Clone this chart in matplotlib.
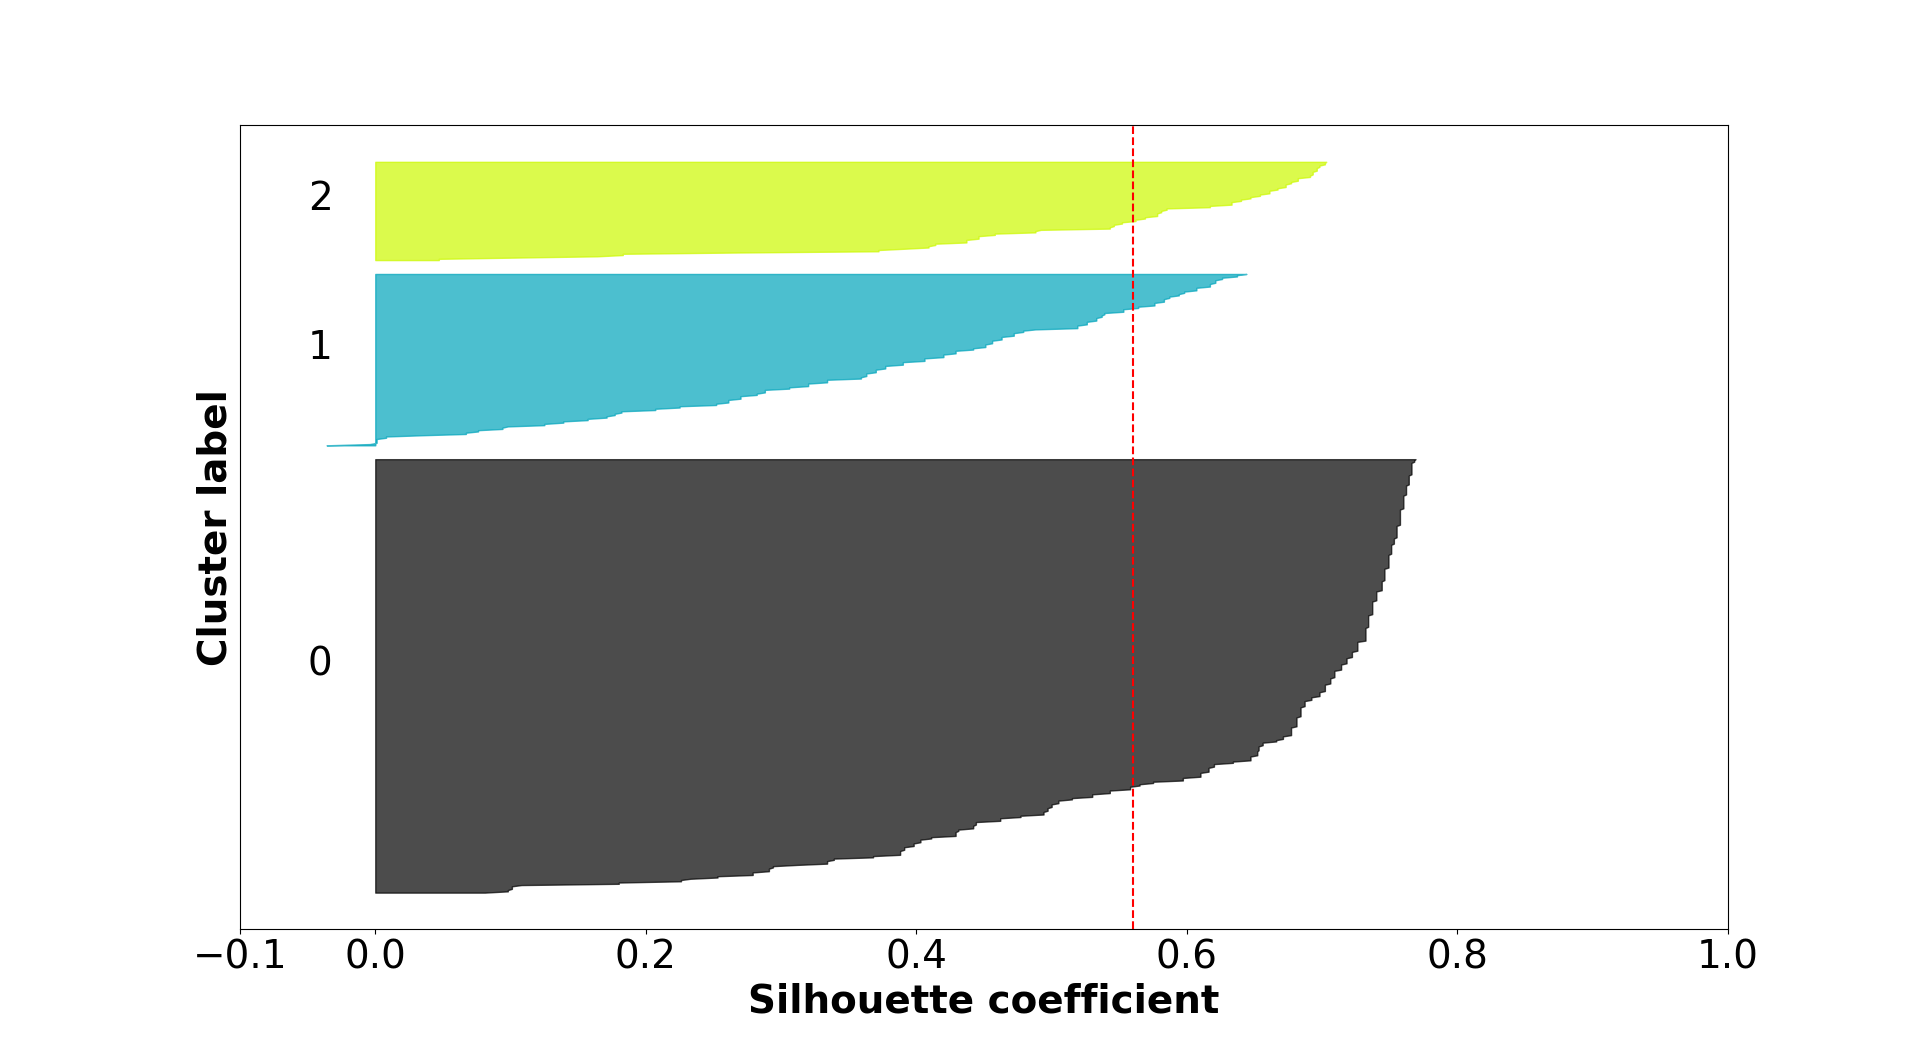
import numpy as np
import matplotlib
matplotlib.use("Agg")
import matplotlib.pyplot as plt
from matplotlib import cm

# sorted silhouette values per cluster, as (value, number of samples) runs
sil0_vals = [0.081, 0.098, 0.101, 0.108, 0.180, 0.226, 0.233, 0.253, 0.279, 0.291,
             0.294, 0.312, 0.334, 0.339, 0.368, 0.388, 0.391, 0.398, 0.403, 0.411,
             0.429, 0.431, 0.442, 0.444, 0.462, 0.477, 0.494, 0.497, 0.500, 0.505,
             0.515, 0.530, 0.543, 0.558, 0.565, 0.575, 0.597, 0.610, 0.616, 0.620,
             0.634, 0.647, 0.652, 0.653, 0.656, 0.666, 0.671, 0.677, 0.681, 0.684,
             0.687, 0.692, 0.698, 0.702, 0.706, 0.709, 0.714, 0.718, 0.722, 0.726,
             0.732, 0.734, 0.737, 0.740, 0.744, 0.746, 0.749, 0.751, 0.753, 0.755,
             0.7575, 0.760, 0.762, 0.764, 0.766, 0.768, 0.769]
sil0_counts = [1, 2, 3, 1, 2, 2, 1, 2, 3, 3,
               2, 1, 3, 2, 2, 4, 3, 3, 3, 2,
               4, 2, 3, 3, 3, 2, 3, 3, 3, 3,
               2, 3, 3, 3, 2, 2, 3, 4, 4, 3,
               2, 4, 4, 4, 3, 2, 3, 7, 8, 8,
               5, 3, 4, 6, 5, 6, 5, 5, 5, 8,
               11, 10, 11, 8, 8, 10, 11, 8, 5, 10,
               13, 11, 8, 8, 10, 2, 1]

sil1_vals = [-0.036, -0.004, 0.001, 0.008, 0.035, 0.067, 0.076, 0.094, 0.098, 0.125,
             0.139, 0.157, 0.171, 0.177, 0.182, 0.207, 0.225, 0.252, 0.261, 0.270,
             0.282, 0.288, 0.306, 0.320, 0.334, 0.359, 0.363, 0.370, 0.377, 0.390,
             0.406, 0.420, 0.429, 0.442, 0.451, 0.456, 0.463, 0.472, 0.479, 0.488,
             0.519, 0.526, 0.533, 0.537, 0.539, 0.553, 0.564, 0.576, 0.583, 0.587,
             0.594, 0.598, 0.607, 0.617, 0.621, 0.626, 0.637, 0.644]
sil1_counts = [1, 1, 4, 2, 1, 2, 2, 2, 1, 2,
               2, 2, 2, 2, 2, 2, 2, 2, 3, 3,
               2, 3, 2, 3, 3, 2, 3, 3, 3, 3,
               3, 3, 3, 2, 3, 3, 3, 3, 2, 1,
               3, 3, 3, 2, 2, 3, 2, 3, 3, 2,
               2, 2, 3, 3, 3, 2, 2, 1]

sil2_vals = [0.047, 0.104, 0.164, 0.183, 0.266, 0.372, 0.391, 0.409, 0.414, 0.437,
             0.446, 0.458, 0.488, 0.492, 0.543, 0.546, 0.552, 0.562, 0.569, 0.578,
             0.581, 0.585, 0.617, 0.633, 0.640, 0.647, 0.654, 0.661, 0.667, 0.673,
             0.677, 0.682, 0.691, 0.693, 0.696, 0.698, 0.702, 0.703]
sil2_counts = [2, 1, 1, 2, 1, 2, 1, 2, 2, 3,
               3, 2, 2, 1, 2, 2, 2, 2, 2, 3,
               2, 2, 2, 3, 2, 2, 2, 3, 2, 3,
               2, 3, 2, 3, 3, 2, 2, 1]

silhouette_avg = 0.560
cluster_names = ["0", "1", "2"]
xticks = [-0.1, 0, 0.2, 0.4, 0.6, 0.8, 1.0]

clusters = [np.repeat(sil0_vals, sil0_counts),
            np.repeat(sil1_vals, sil1_counts),
            np.repeat(sil2_vals, sil2_counts)]
n_clusters = len(clusters)

fig, ax = plt.subplots(figsize=(19.2, 10.44), dpi=100)

y_lower = 10
for i, vals in enumerate(clusters):
    size = len(vals)
    y_upper = y_lower + size
    color = cm.nipy_spectral(float(i) / n_clusters)
    ax.fill_betweenx(np.arange(y_lower, y_upper), 0, vals,
                     facecolor=color, edgecolor=color, alpha=0.7)
    ax.text(-0.05, y_lower + 0.5 * size, cluster_names[i], fontsize=28)
    y_lower = y_upper + 10

ax.axvline(x=silhouette_avg, color="red", linestyle="--")

ax.set_xlim([-0.1, 1])
ax.set_yticks([])
ax.set_xticks(xticks)
ax.tick_params(axis="x", labelsize=28)
ax.set_xlabel("Silhouette coefficient", fontsize=28, fontweight="bold")
ax.set_ylabel("Cluster label", fontsize=28, fontweight="bold")

fig.savefig("out.png", dpi=100)
